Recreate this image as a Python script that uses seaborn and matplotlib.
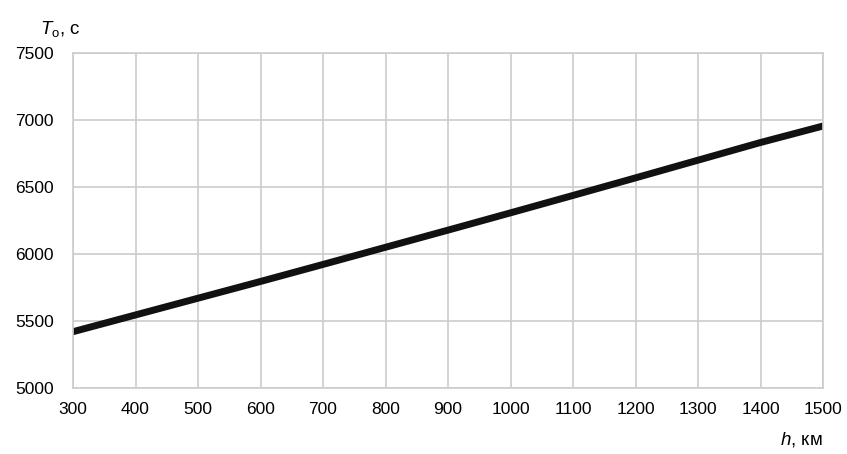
import numpy as np
import pandas as pd
import matplotlib
matplotlib.use("Agg")
import matplotlib.pyplot as plt
import seaborn as sns

# altitude, km and orbital period, s
h_km = [300, 400, 500, 600, 700, 800, 900, 1000, 1100, 1200, 1300, 1400, 1500]
period_s = [5420, 5545, 5670, 5795, 5922, 6050, 6178, 6307, 6437, 6568, 6700, 6832, 6955]
x_ticks = list(range(300, 1501, 100))
y_ticks = [5000, 5500, 6000, 6500, 7000, 7500]

df = pd.DataFrame({"h": h_km, "T": period_s})

sns.set_theme(style="whitegrid")
plt.rcParams['font.family'] = ['Liberation Sans', 'DejaVu Sans']
plt.rcParams['mathtext.fontset'] = 'custom'
plt.rcParams['mathtext.it'] = 'Liberation Sans:italic'
plt.rcParams['mathtext.rm'] = 'Liberation Sans'

fig = plt.figure(figsize=(8.47, 4.54), dpi=100)
ax = fig.add_axes([0.0862, 0.1454, 0.8855, 0.7379])

sns.lineplot(data=df, x="h", y="T", ax=ax, color="#111111", linewidth=5)

ax.set_xlim(300, 1500)
ax.set_ylim(5000, 7500)
ax.set_xticks(x_ticks)
ax.set_yticks(y_ticks)
ax.grid(True, color="#cccccc", linewidth=1.2)
for s in ax.spines.values():
    s.set_color("#cccccc")
    s.set_linewidth(1.2)
ax.tick_params(axis="x", length=0, labelsize=12.5, pad=10, colors="#000000")
ax.tick_params(axis="y", length=0, labelsize=12.5, pad=14, colors="#000000")
ax.set_xlabel("")
ax.set_ylabel("")

fig.text(0.047, 0.925, r"$T_\mathregular{o}$, с", fontsize=13.5, color="#000000")
fig.text(0.921, 0.02, r"$h$, км", fontsize=13.5, color="#000000")

fig.savefig("out.png", dpi=100)
